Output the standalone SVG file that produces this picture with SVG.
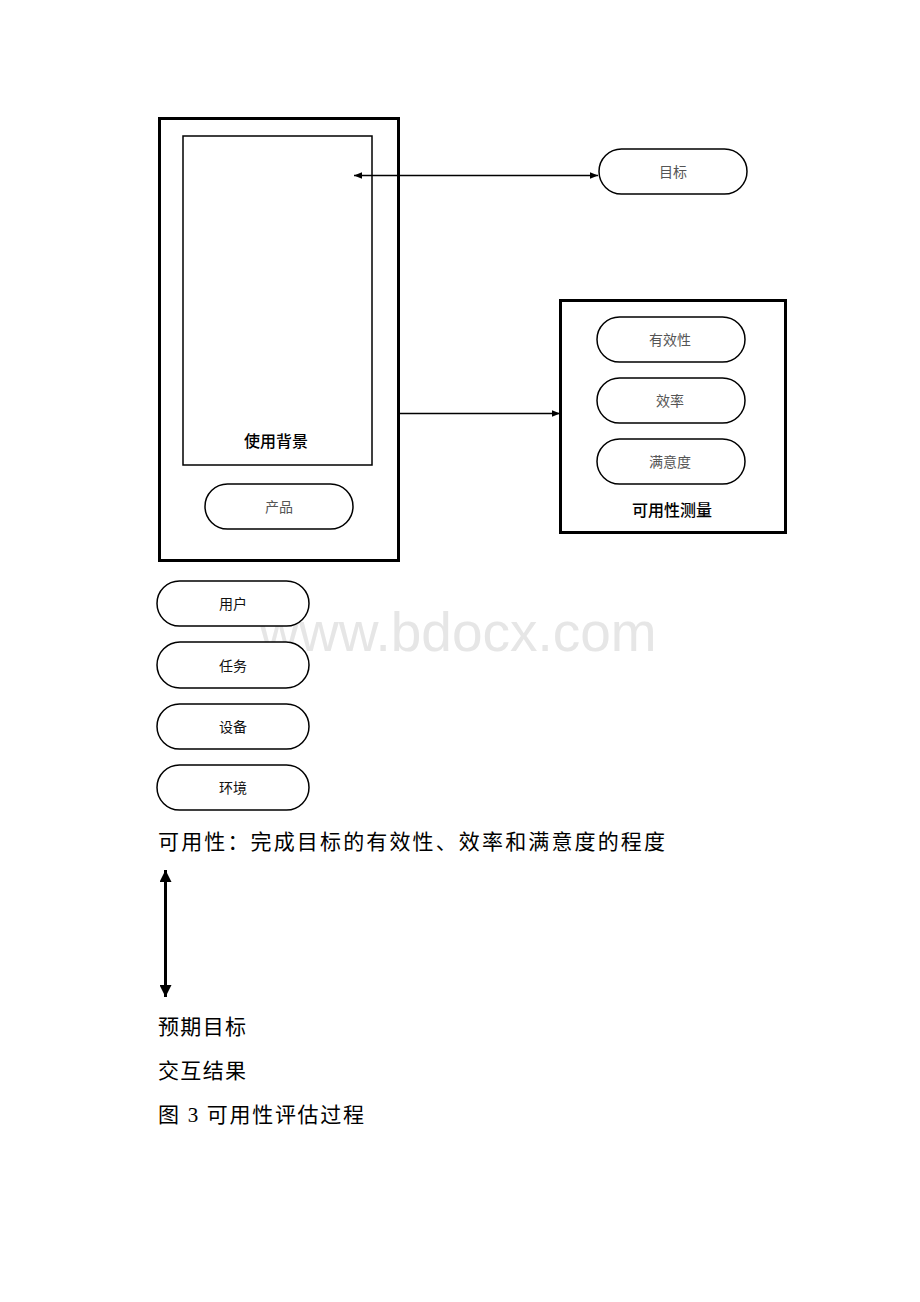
<svg xmlns="http://www.w3.org/2000/svg" width="920" height="1302" viewBox="0 0 920 1302">
<style>
.thick{fill:none;stroke:#000;stroke-width:3}
.thin{fill:none;stroke:#000;stroke-width:1.5}
.pill{fill:#fff;stroke:#000;stroke-width:1.5}
.lbl{font-family:"Liberation Sans","Noto Sans CJK SC",sans-serif;font-size:14px;text-anchor:middle;fill:#555}
.lblk{font-family:"Liberation Sans","Noto Sans CJK SC",sans-serif;font-size:14px;text-anchor:middle;fill:#111}
.title{font-family:"Liberation Sans","Noto Sans CJK SC",sans-serif;font-size:16px;text-anchor:middle;fill:#000;font-weight:500}
.body{font-family:"Liberation Serif","Noto Sans CJK SC",serif;font-size:21px;fill:#000}
.conn{stroke:#000;stroke-width:1.5;fill:none}
</style>
<defs>
<marker id="ah" viewBox="0 0 10 10" refX="10" refY="5" markerWidth="8" markerHeight="8" markerUnits="userSpaceOnUse" orient="auto-start-reverse"><path d="M0,1 L10,5 L0,9 z" fill="#000"/></marker>
<marker id="ahb" viewBox="0 0 10 10" refX="10" refY="5" markerWidth="12" markerHeight="12" markerUnits="userSpaceOnUse" orient="auto-start-reverse"><path d="M0,0 L10,5 L0,10 z" fill="#000"/></marker>
</defs>
<rect width="920" height="1302" fill="#fff"/>
<text x="458" y="651" font-family="Liberation Sans,sans-serif" font-size="55" fill="#e6e6e6" text-anchor="middle">www.bdocx.com</text>
<g id="context">
<rect x="159.5" y="118.5" width="239" height="442" class="thick"/>
<rect x="183" y="136" width="189" height="329" class="thin"/>
<text x="276" y="447" class="title">使用背景</text>
</g>
<g id="product"><rect x="205" y="484" width="148" height="45" rx="22.5" class="pill"/><text x="279" y="512" class="lbl">产品</text></g>
<g id="goal"><rect x="599" y="149" width="148" height="45" rx="22.5" class="pill"/><text x="673" y="177" class="lbl">目标</text></g>
<g id="measure">
<rect x="560.5" y="300.5" width="225" height="232" class="thick"/>
<text x="672" y="516" class="title">可用性测量</text>
</g>
<g id="effectiveness"><rect x="597" y="317" width="148" height="45" rx="22.5" class="pill"/><text x="670" y="345" class="lbl">有效性</text></g>
<g id="efficiency"><rect x="597" y="378" width="148" height="45" rx="22.5" class="pill"/><text x="670" y="406" class="lbl">效率</text></g>
<g id="satisfaction"><rect x="597" y="439" width="148" height="45" rx="22.5" class="pill"/><text x="670" y="467" class="lbl">满意度</text></g>
<g id="user"><rect x="157" y="581" width="152" height="45" rx="22.5" class="pill"/><text x="233" y="609" class="lblk">用户</text></g>
<g id="task"><rect x="157" y="642" width="152" height="46" rx="23" class="pill"/><text x="233" y="671" class="lblk">任务</text></g>
<g id="device"><rect x="157" y="704" width="152" height="45" rx="22.5" class="pill"/><text x="233" y="732" class="lblk">设备</text></g>
<g id="environment"><rect x="157" y="765" width="152" height="45" rx="22.5" class="pill"/><text x="233" y="793" class="lblk">环境</text></g>
<g id="connectors">
<line x1="354" y1="175.5" x2="598" y2="175.5" class="conn" marker-start="url(#ah)" marker-end="url(#ah)"/>
<line x1="398" y1="413.5" x2="560" y2="413.5" class="conn" marker-end="url(#ah)"/>
<line x1="165.5" y1="870" x2="165.5" y2="997" stroke="#000" stroke-width="3" marker-start="url(#ahb)" marker-end="url(#ahb)"/>
</g>
<g id="texts">
<text x="158" y="849" class="body" textLength="507" lengthAdjust="spacing">可用性：完成目标的有效性、效率和满意度的程度</text>
<text x="158" y="1034" class="body" textLength="88" lengthAdjust="spacing">预期目标</text>
<text x="158" y="1078" class="body" textLength="88" lengthAdjust="spacing">交互结果</text>
<text x="158" y="1122" class="body" textLength="206" lengthAdjust="spacing">图 3 可用性评估过程</text>
</g>
</svg>
